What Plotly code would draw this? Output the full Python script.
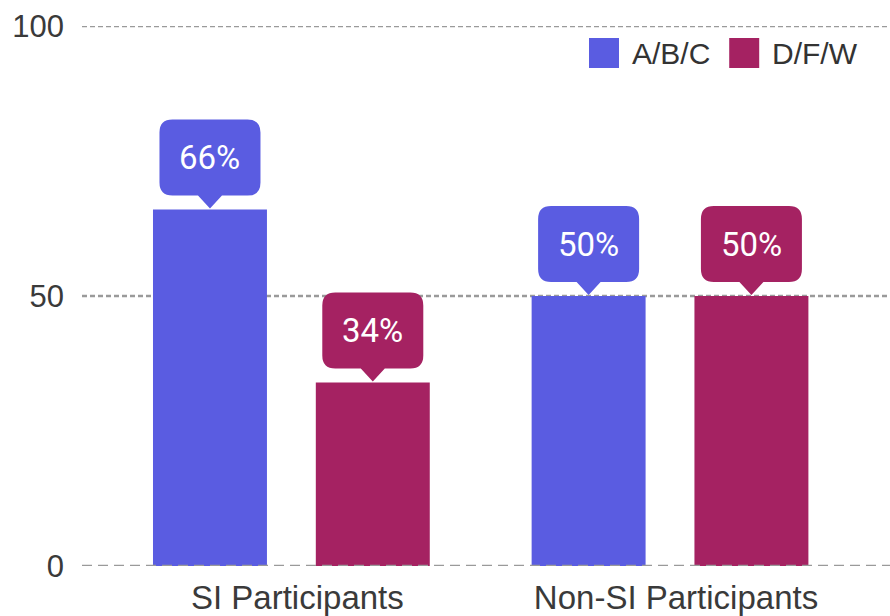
import plotly.graph_objects as go

categories = ["SI Participants", "Non-SI Participants"]
series_names = ["A/B/C", "D/F/W"]
abc_values = [66, 50]
dfw_values = [34, 50]
y_ticks = [0, 50, 100]

colors = {"A/B/C": "#5A5CE1", "D/F/W": "#A52262"}
series_values = {"A/B/C": abc_values, "D/F/W": dfw_values}
offsets = {"A/B/C": -0.215, "D/F/W": 0.215}
bar_width = 0.301

fig = go.Figure()
shapes = []
annotations = []

# gridlines
for t in y_ticks:
    shapes.append(dict(
        type="line", xref="paper", x0=0, x1=1, yref="y", y0=t, y1=t,
        line=dict(color="#9a9a9a", width=2.5,
                  dash="10px,6px" if t == 0 else "5px,3px"),
        layer="above" if t == 0 else "below",
    ))

r = 13
bw, bb, bt, ph = 50.5, 14, 90, 12
callout_path = (
    f"M {-bw + r},{bb} L {-ph},{bb} L 0,1 L {ph},{bb} L {bw - r},{bb} "
    f"Q {bw},{bb} {bw},{bb + r} L {bw},{bt - r} Q {bw},{bt} {bw - r},{bt} "
    f"L {-bw + r},{bt} Q {-bw},{bt} {-bw},{bt - r} L {-bw},{bb + r} "
    f"Q {-bw},{bb} {-bw + r},{bb} Z"
)

for name in series_names:
    xs = [i + offsets[name] for i in range(len(categories))]
    vals = series_values[name]
    fig.add_trace(go.Bar(
        x=xs, y=vals, width=bar_width, name=name,
        marker=dict(color=colors[name], line=dict(width=0)),
        showlegend=False, hoverinfo="skip",
    ))
    for x, v in zip(xs, vals):
        shapes.append(dict(
            type="path", xref="x", yref="y",
            xsizemode="pixel", ysizemode="pixel",
            xanchor=x, yanchor=v, path=callout_path,
            fillcolor=colors[name], line=dict(width=0), layer="above",
        ))
        annotations.append(dict(
            x=x, y=v, xref="x", yref="y", text=f"{v}%", showarrow=False,
            yshift=(bb + bt) / 2, font=dict(family="Roboto", size=33, color="white"),
        ))

# legend (custom, large squares)
legend_items = [("A/B/C", 0.6275, 0.678), ("D/F/W", 0.801, 0.8515)]
for name, sx, tx in legend_items:
    shapes.append(dict(
        type="rect", xref="paper", yref="paper",
        xsizemode="pixel", ysizemode="pixel",
        xanchor=sx, yanchor=0.950, x0=0, x1=30, y0=-15, y1=15,
        fillcolor=colors[name], line=dict(width=0), layer="above",
    ))
    annotations.append(dict(
        x=tx, y=0.950, xref="paper", yref="paper", xanchor="left", yanchor="middle",
        text=name, showarrow=False,
        font=dict(family="Liberation Sans", size=30, color="#333333"),
    ))

fig.update_layout(
    width=890, height=616,
    margin=dict(l=82, r=0, t=26, b=48),
    paper_bgcolor="white", plot_bgcolor="white",
    shapes=shapes, annotations=annotations,
    showlegend=False,
    xaxis=dict(
        range=[-0.553, 1.581], tickvals=list(range(len(categories))),
        ticktext=categories, showgrid=False, zeroline=False, showline=False,
        tickfont=dict(family="Liberation Sans", size=33, color="#3a3a3a"),
        ticklabelstandoff=9, ticklabelshift=6, fixedrange=True,
    ),
    yaxis=dict(
        range=[0, 100], tickvals=y_ticks, showgrid=False, zeroline=False,
        showline=False,
        tickfont=dict(family="Liberation Sans", size=31, color="#3a3a3a"),
        ticklabelstandoff=17, fixedrange=True,
    ),
)

fig.write_html(
    "out.html",
    config={"displayModeBar": False},
    post_script="document.body.style.margin='0';document.body.style.overflow='hidden';",
)
